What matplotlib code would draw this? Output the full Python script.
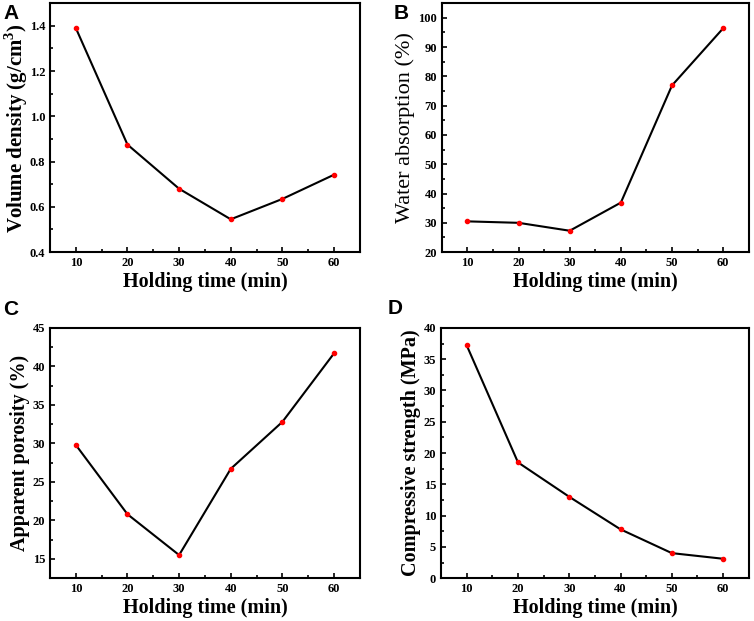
import matplotlib.pyplot as plt
from matplotlib.ticker import MultipleLocator

# Data
holding_time = [10, 20, 30, 40, 50, 60]
volume_density = [1.39, 0.875, 0.68, 0.545, 0.635, 0.742]
water_absorption = [30.5, 30.0, 27.3, 36.9, 76.9, 96.4]
apparent_porosity = [29.8, 20.8, 15.5, 26.7, 32.8, 41.7]
compressive_strength = [37.2, 18.5, 13.0, 7.8, 4.0, 3.1]

plt.rcParams['font.family'] = 'Liberation Serif'
plt.rcParams['mathtext.fontset'] = 'custom'
plt.rcParams['mathtext.rm'] = 'Liberation Serif:bold'
plt.rcParams['mathtext.bf'] = 'Liberation Serif:bold'

W, H = 754, 621
fig = plt.figure(figsize=(7.54, 6.21), dpi=100)

panels = [
    ('A', [0.0663, 0.594, 0.411, 0.401], (3, 4), volume_density,
     r'Volume density (g/cm$^{\mathbf{3}}$)', 'bold', 15, 0, (0.4, 1.5), 0.2, 0.1),
    ('B', [0.586, 0.594, 0.407, 0.401], (394, 4), water_absorption,
     'Water absorption (%)', 'normal', 16, 2, (20, 105), 10, 5),
    ('C', [0.0663, 0.069, 0.411, 0.403], (3, 300), apparent_porosity,
     'Apparent porosity (%)', 'bold', 14.5, 2, (12.5, 45), 5, 2.5),
    ('D', [0.585, 0.069, 0.408, 0.403], (388, 299), compressive_strength,
     'Compressive strength (MPa)', 'bold', 14.5, 2, (0, 40), 5, 2.5),
]

for letter, rect, lpos, values, ylabel, yweight, ysize, ypad, ylim, major, minor in panels:
    ax = fig.add_axes(rect)
    ax.plot(holding_time, values, color='black', linewidth=1.5, zorder=2)
    ax.plot(holding_time, values, 'o', color='red', markersize=3, zorder=3)
    ax.set_xlim(5, 65)
    ax.set_ylim(*ylim)
    ax.set_xticks(holding_time)
    ax.xaxis.set_minor_locator(MultipleLocator(5))
    ax.yaxis.set_major_locator(MultipleLocator(major))
    ax.yaxis.set_minor_locator(MultipleLocator(minor))
    ax.tick_params(which='both', direction='in', width=1.2, labelsize=9)
    ax.tick_params(which='major', length=3.5)
    ax.tick_params(which='minor', length=2)
    for lbl in ax.get_xticklabels() + ax.get_yticklabels():
        lbl.set_fontweight('bold')
    for s in ax.spines.values():
        s.set_linewidth(1.5)
    ax.set_xlabel('Holding time (min)', fontsize=14.5, fontweight='bold', labelpad=2)
    ax.set_ylabel(ylabel, fontsize=ysize, fontweight=yweight, labelpad=ypad)
    # panel letter
    fig.text(lpos[0] / W, 1 - lpos[1] / H, letter,
             fontsize=15, fontweight='bold', family='Liberation Sans',
             ha='left', va='top')

plt.savefig('out.png', dpi=100)
